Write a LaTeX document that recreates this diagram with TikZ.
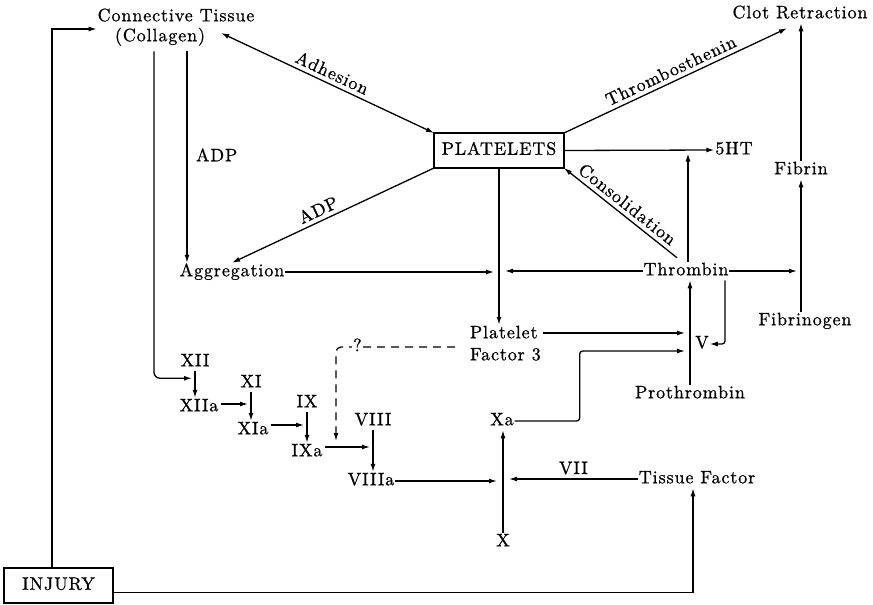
\documentclass[tikz,border=0pt]{standalone}
\usepackage{fontspec}
\setmainfont{lmroman10-regular.otf}[LetterSpace=5,FakeBold=0.8]
\usetikzlibrary{arrows.meta,calc}
\begin{document}
\begin{tikzpicture}[x=1pt,y=-1pt,
  every node/.style={font=\fontsize{18}{20}\selectfont, inner sep=1pt, outer sep=0pt, text height=12.5pt, text depth=4pt},
  arr/.style={line width=1.3pt, -{Latex[length=8pt,width=5pt]}},
  dbl/.style={line width=1.3pt, {Latex[length=8pt,width=5pt]}-{Latex[length=8pt,width=5pt]}},
  pbox/.style={draw, line width=2.6pt, minimum width=130pt, minimum height=35pt, inner sep=0pt},
  ibox/.style={draw, line width=1.6pt, minimum width=109pt, minimum height=35pt, inner sep=0pt},
  dsh/.style={dash pattern=on 8pt off 6pt}
]
\useasboundingbox (0,0) rectangle (873,605);

% nodes
\node (ct1) at (176,17) {Connective Tissue};
\node (ct2) at (160,37) {(Collagen)};
\node[pbox] (plt) at (499,150.5) {PLATELETS};
\node (agg) at (232,272) {Aggregation};
\node[anchor=west] (pf3a) at (469,334) {Platelet};
\node[anchor=west] (pf3b) at (469,356) {Factor 3};
\node (thr) at (686,271) {Thrombin};
\node (fib) at (801,170) {Fibrin};
\node (fibg) at (805,321) {Fibrinogen};
\node (clot) at (800,14) {Clot Retraction};
\node (ht) at (734,150) {5HT};
\node (pro) at (690,394) {Prothrombin};
\node (v) at (702,344) {V};
\node (xa) at (502,421) {Xa};
\node (x) at (503,542) {X};
\node (tf) at (697,479) {Tissue Factor};
\node (viiia) at (371,481) {VIIIa};
\node (viii) at (373,421) {VIII};
\node (ixa) at (307,452) {IXa};
\node (ix) at (307,403) {IX};
\node (xia) at (253,430) {XIa};
\node (xi) at (251,383) {XI};
\node (xiia) at (199,407) {XIIa};
\node (xii) at (195,362) {XII};
\node[ibox] (inj) at (58.5,585.5) {INJURY};

% injury connectors
\draw[arr] ($(inj.north west)+(48,0)$) |- ($(ct1.west)+(0,12)$);
\draw[arr] ($(inj.east)+(0,7)$) -| ($(tf.south)+(-4,0)$);

% collagen
\draw[dbl] ($(ct2.east)+(15,-4)$) -- node[sloped,above]{Adhesion} (plt.north west);
\draw[arr] ($(ct2.south)+(27,5)$) coordinate (adp0) -- node[midway,right=8pt]{ADP} (adp0 |- agg.north);
\draw[arr,rounded corners=6pt] ($(ct2.south)+(-6,5)$) |- ($(xii.south)+(-3,7)$);

% platelets
\draw[arr] (plt.south west) -- node[sloped,above,pos=0.55]{ADP} (agg.north);
\draw[arr] (plt.north east) -- node[sloped,above]{Thrombosthenin} ($(clot.south)+(-13,5)$);
\draw[arr] (plt.east) -- (ht.west);
\draw[arr] (plt.south) -- (plt.south |- pf3a.north);
\draw[arr] (agg.east) -- ($(plt.south |- agg.east)+(-5,0)$);

% thrombin
\draw[arr] (thr.west) -- ($(plt.south |- thr.west)+(6,0)$);
\draw[arr] ($(thr.north)+(2,0)$) -- ($(thr.north |- plt.east)+(2,3)$);
\draw[arr] ($(thr.north)+(-9,-4)$) -- node[sloped,above]{Consolidation} (plt.south east);
\draw[arr] (thr.east) -- ($(fib.south |- thr.east)+(-4,0)$);
\draw[arr] (fib.south |- fibg.north) -- (fib.south);
\draw[arr] (fib.north) -- (fib.north |- clot.south);
\draw[arr] (pro.north) -- (pro.north |- thr.south);
\draw[arr,rounded corners=3pt] ($(thr.south)+(39,0)$) |- (v.east);

% platelet factor 3 and Xa
\draw[arr] ($(pf3a.east)+(4,-1)$) -- ($(pro.north |- pf3a.east)+(-5,-1)$);
\draw[arr,rounded corners=3pt] (xa.east) -- ++(65,0) |- ($(pro.north |- pf3b.west)+(-5,-5)$);
\draw[arr] (x.north) -- (x.north |- xa.south);
\draw[arr] (viiia.east) -- ($(x.north |- viiia.east)+(-6,0)$);
\draw[arr] (tf.west) -- node[above]{VII} ($(x.north |- tf.west)+(6,0)$);

% cascade
\draw[arr] (xii.south) -- (xii.south |- xiia.north);
\draw[arr] ($(xiia.east)+(2,-3)$) -- ($(xi.south |- xiia.east)+(-3,-3)$);
\draw[arr] (xi.south) -- (xi.south |- xia.north);
\draw[arr] ($(xia.east)+(2,-5)$) -- ($(ix.south |- xia.east)+(-3,-5)$);
\draw[arr] (ix.south) -- (ix.south |- ixa.north);
\draw[arr] ($(ixa.east)+(2,-5)$) -- ($(viii.south |- ixa.east)+(-3,-5)$);
\draw[arr] (viii.south) -- (viii.south |- viiia.north);
\draw[arr,dsh,rounded corners=5pt] ($(pf3a.west)+(-14,13)$) -| node[pos=0.41,fill=white]{?} ($(viii.south |- ixa.east)+(-37,-11)$);
\end{tikzpicture}
\end{document}
